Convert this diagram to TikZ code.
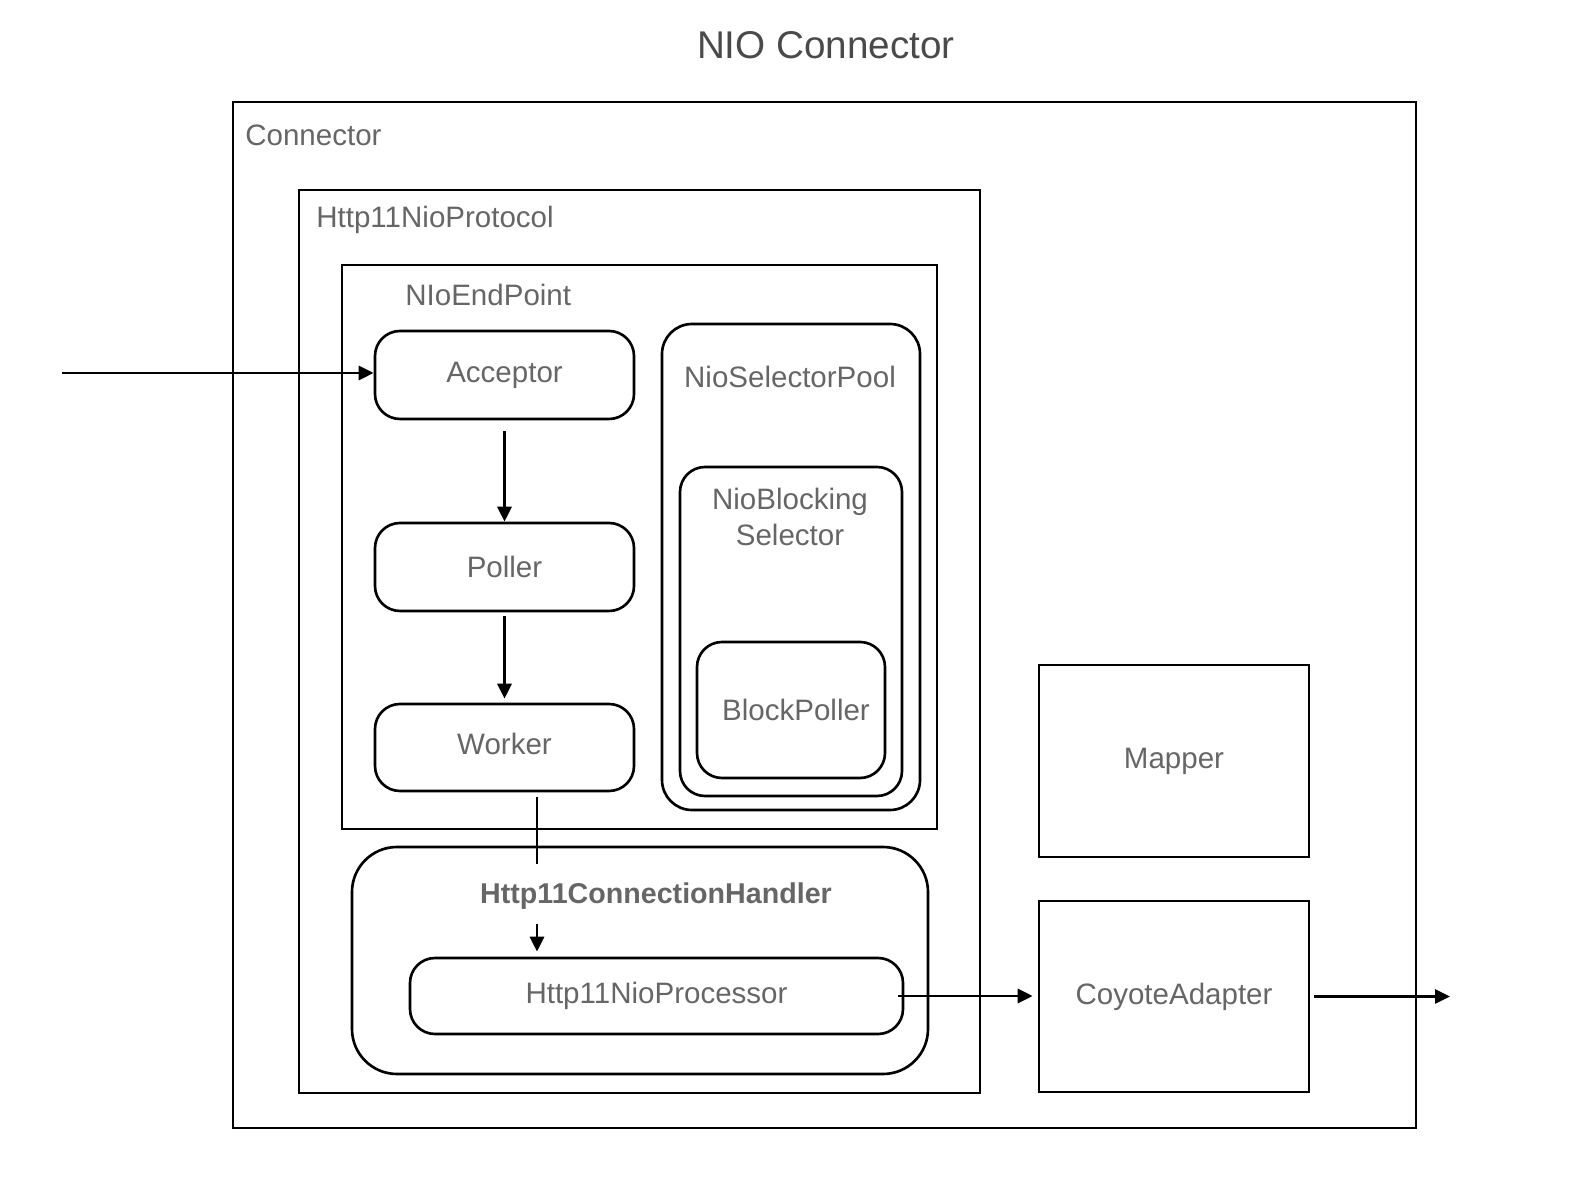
\documentclass[tikz,border=0pt]{standalone}
\usepackage{fontspec}
\setmainfont{Liberation Sans}
\usetikzlibrary{arrows.meta,positioning}
\definecolor{txtgray}{HTML}{666666}
\definecolor{titlegray}{HTML}{4A4A4A}
\tikzset{box/.style={draw, line width=1.5pt, inner sep=0pt},
         rbox/.style={box, rounded corners=0.5cm},
         lbl/.style={text=txtgray, inner sep=0pt, font=\fontsize{16.8}{20.5}\selectfont},
         flow/.style={line width=1.7pt, -{Triangle[length=0.3cm,width=0.28cm]}}}

\begin{document}
\begin{tikzpicture}[x=2cm,y=-2cm]
\useasboundingbox (0,0) rectangle (15.9,12);

\node[lbl,text=titlegray,font=\fontsize{22}{26}\selectfont] (title) at (8.26,0.45) {NIO Connector};

% outer containers
\node[box,line width=1.6pt,minimum width=23.66cm,minimum height=20.52cm] (connector) at (8.245,6.15) {};
\node[lbl,anchor=west] (connectorlbl) at (2.45,1.35) {Connector};
\node[box,minimum width=13.62cm,minimum height=18.06cm] (protocol) at (6.395,6.415) {};
\node[lbl,anchor=west] (protocollbl) at (3.16,2.20) {Http11NioProtocol};
\node[box,minimum width=11.9cm,minimum height=11.28cm] (endpoint) at (6.395,5.47) {};
\node[lbl,anchor=west] (endpointlbl) at (4.05,2.95) {NIoEndPoint};

% endpoint threads
\node[rbox,lbl,text=txtgray,minimum width=5.18cm,minimum height=1.76cm] (acceptor) at (5.045,3.75) {Acceptor};
\node[rbox,lbl,text=txtgray,minimum width=5.18cm,minimum height=1.76cm] (poller) at (5.045,5.67) {Poller};
\node[rbox,lbl,text=txtgray,minimum width=5.18cm,minimum height=1.74cm] (worker) at (5.045,7.475) {\raisebox{0.14cm}{Worker}};

% selector pool
\node[box,rounded corners=0.6cm,minimum width=5.16cm,minimum height=9.72cm] (pool) at (7.91,5.67) {};
\node[lbl] (poollbl) at (7.90,3.77) {NioSelectorPool};
\node[rbox,minimum width=4.44cm,minimum height=6.58cm] (blocking) at (7.91,6.315) {};
\node[lbl,align=center] (blockinglbl) at (7.90,5.165) {NioBlocking\\Selector};
\node[rbox,lbl,text=txtgray,minimum width=3.76cm,minimum height=2.72cm] (blockpoller) at (7.91,7.10) {\hspace{0.2cm}BlockPoller};

% handler
\node[box,rounded corners=0.9cm,minimum width=11.52cm,minimum height=4.54cm] (handler) at (6.40,9.605) {};
\node[lbl,font=\fontsize{16.3}{20}\selectfont\bfseries] (handlerlbl) at (6.56,8.96) {Http11ConnectionHandler};
\node[rbox,lbl,text=txtgray,minimum width=9.86cm,minimum height=1.52cm] (processor) at (6.565,9.96) {Http11NioProcessor};

% right side
\node[box,lbl,text=txtgray,minimum width=5.4cm,minimum height=3.84cm] (mapper) at (11.74,7.61) {Mapper};
\node[box,lbl,text=txtgray,minimum width=5.4cm,minimum height=3.82cm] (adapter) at (11.74,9.965) {CoyoteAdapter};

% connectors
\coordinate (src) at (0.62,3.73);
\coordinate (wout) at (5.37,7.97);
\coordinate (hin) at (5.37,8.64);
\coordinate (hout) at (5.37,9.24);
\coordinate (sink) at (14.50,9.965);

\draw[flow] (src) -- (src -| acceptor.west);
\draw[flow,shorten <=0.22cm] (acceptor.south) -- (poller.north);
\draw[flow,shorten <=0.08cm,shorten >=0.08cm] (poller.south) -- (worker.north);
\draw[line width=1.7pt] (wout) -- (hin);
\draw[flow,shorten >=0.1cm] (hout) -- (hout |- processor.north);
\draw[flow,shorten >=0.1cm] ([xshift=-0.12cm]processor.east) -- (processor.east -| adapter.west);
\draw[flow,shorten <=0.08cm] (adapter.east) -- (sink);

\end{tikzpicture}
\end{document}
